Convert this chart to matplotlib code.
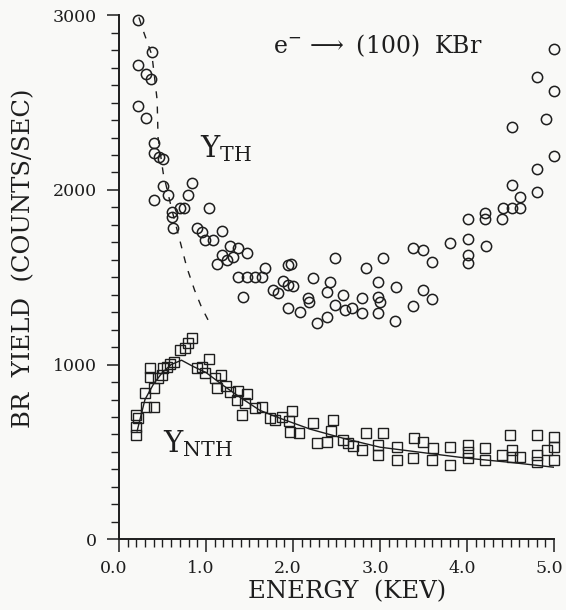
import matplotlib.pyplot as plt
import matplotlib.transforms as mtransforms
from matplotlib.ticker import MultipleLocator

# thermal yield (circles)
th_energy = [0.22, 0.38, 0.22, 0.31, 0.37, 0.22, 0.31, 0.40, 0.40, 0.46,
             0.51, 0.51, 0.40, 0.56, 0.61, 0.62, 0.70, 0.75, 0.79, 0.84,
             1.03, 0.61, 0.90, 0.95, 0.99, 1.08, 1.18, 1.28, 1.37, 1.47,
             1.18, 1.24, 1.13, 1.31, 1.37, 1.47, 1.56, 1.64, 1.68, 1.43,
             1.77, 1.83, 1.89, 1.94, 1.94, 1.94, 1.98, 2.00, 2.08, 2.17,
             2.18, 2.23, 2.28, 2.39, 2.39, 2.43, 2.48, 2.48, 2.57, 2.60,
             2.68, 2.79, 2.79, 2.84, 2.98, 2.98, 2.98, 3.00, 3.03, 3.17,
             3.18, 3.38, 3.38, 3.49, 3.49, 3.60, 3.60, 3.80, 4.01, 4.01,
             4.01, 4.01, 4.21, 4.21, 4.22, 4.40, 4.41, 4.52, 4.52, 4.52,
             4.61, 4.61, 4.80, 4.80, 4.80, 4.91, 5.00, 5.00, 5.00]
th_yield = [2971, 2788, 2714, 2662, 2634, 2479, 2410, 2267, 2210, 2187,
            2176, 2021, 1941, 1969, 1872, 1780, 1895, 1895, 1969, 2038,
            1895, 1843, 1780, 1758, 1712, 1712, 1763, 1677, 1666, 1637,
            1626, 1597, 1574, 1614, 1500, 1500, 1500, 1500, 1551, 1385,
            1426, 1408, 1477, 1454, 1569, 1322, 1574, 1450, 1300, 1380,
            1357, 1494, 1237, 1414, 1271, 1471, 1609, 1340, 1397, 1311,
            1322, 1380, 1294, 1551, 1471, 1385, 1294, 1360, 1609, 1248,
            1443, 1666, 1334, 1655, 1426, 1586, 1374, 1695, 1832, 1718,
            1626, 1580, 1866, 1832, 1677, 1832, 1895, 1895, 2027, 2359,
            1895, 1958, 1987, 2118, 2645, 2404, 2805, 2565, 2193]

# non-thermal yield (squares)
nth_energy = [0.20, 0.20, 0.20, 0.22, 0.30, 0.31, 0.40, 0.40, 0.36, 0.36,
              0.45, 0.49, 0.51, 0.55, 0.59, 0.63, 0.70, 0.76, 0.79, 0.84,
              0.90, 0.95, 0.99, 1.03, 1.10, 1.17, 1.13, 1.23, 1.28, 1.37,
              1.47, 1.36, 1.45, 1.41, 1.56, 1.64, 1.74, 1.79, 1.87, 1.99,
              1.95, 1.97, 2.07, 2.23, 2.28, 2.39, 2.46, 2.44, 2.57, 2.63,
              2.69, 2.79, 2.84, 2.98, 2.98, 3.03, 3.20, 3.20, 3.39, 3.38,
              3.49, 3.61, 3.60, 3.80, 3.80, 4.01, 4.01, 4.01, 4.21, 4.21,
              4.40, 4.49, 4.52, 4.52, 4.61, 4.80, 4.80, 4.80, 4.92, 5.00,
              5.00, 5.00]
nth_yield = [595, 641, 710, 693, 836, 756, 756, 865, 979, 927,
             922, 939, 979, 985, 1002, 1013, 1082, 1093, 1122, 1151,
             979, 985, 950, 1030, 922, 939, 865, 876, 842, 847,
             830, 796, 779, 710, 750, 756, 693, 681, 698, 733,
             676, 613, 607, 664, 550, 555, 681, 618, 567, 550,
             532, 510, 607, 538, 481, 607, 527, 452, 578, 464,
             555, 521, 452, 527, 424, 538, 498, 464, 521, 452,
             481, 595, 510, 469, 469, 595, 481, 441, 510, 584,
             527, 452]

# dashed curve through the low-energy thermal points
dash_energy = [0.23, 0.29, 0.38, 0.41, 0.44, 0.45, 0.51, 0.61, 0.70, 0.78, 0.87, 0.95, 1.05]
dash_yield = [2988, 2897, 2771, 2645, 2513, 2301, 2095, 1884, 1712, 1557, 1426, 1328, 1231]

# solid fit through the squares
fit_energy = [0.21, 0.30, 0.40, 0.50, 0.60, 0.72, 0.85, 1.00, 1.20, 1.40,
              1.62, 1.85, 2.20, 2.60, 3.00, 3.46, 4.00, 4.50, 5.00]
fit_yield = [620, 800, 890, 955, 1000, 1025, 990, 955, 880, 810,
             738, 693, 630, 575, 527, 498, 464, 440, 412]

ink = '#1e1e1e'
plt.rcParams['font.family'] = 'DejaVu Serif'
plt.rcParams['mathtext.fontset'] = 'dejavuserif'

fig = plt.figure(figsize=(5.66, 6.10), dpi=100, facecolor='#f9f9f7')
ax = fig.add_axes([0.210, 0.116, 0.769, 0.859])
ax.set_facecolor('#f9f9f7')

ax.plot(th_energy, th_yield, 'o', ms=7.4, mfc='none', mec=ink, mew=1.1, clip_on=False)
ax.plot(nth_energy, nth_yield, 's', ms=7.0, mfc='none', mec=ink, mew=1.0, clip_on=False)
ax.plot(dash_energy, dash_yield, '--', color=ink, lw=1.0, dashes=(5, 6))
ax.plot(fit_energy, fit_yield, '-', color=ink, lw=1.0)

ax.set_xlim(0, 5)
ax.set_ylim(0, 3000)
ax.xaxis.set_major_locator(MultipleLocator(1.0))
ax.xaxis.set_minor_locator(MultipleLocator(0.1))
ax.yaxis.set_major_locator(MultipleLocator(1000))
ax.yaxis.set_minor_locator(MultipleLocator(100))
ax.xaxis.set_major_formatter(plt.FuncFormatter(lambda v, p: '%.1f' % v))

for s in ['top', 'right']:
    ax.spines[s].set_visible(False)
for s in ['left', 'bottom']:
    ax.spines[s].set_linewidth(1.4)
    ax.spines[s].set_color(ink)

ax.tick_params(which='major', length=9, width=1.1, color=ink, labelsize=12.5, labelcolor=ink)
ax.tick_params(which='minor', length=5.5, width=1.0, color=ink)
ax.tick_params(axis='y', which='major', pad=7)
ax.tick_params(axis='x', which='major', pad=6)

# x tick labels sit a little left of their ticks in the original
shift = mtransforms.ScaledTranslation(-5 / 100, 0, fig.dpi_scale_trans)
for lab in ax.get_xticklabels():
    lab.set_transform(lab.get_transform() + shift)

ax.set_xlabel('ENERGY  (KEV)', fontsize=17.5, color=ink)
ax.set_ylabel('BR  YIELD  (COUNTS/SEC)', fontsize=17.5, color=ink)
ax.xaxis.set_label_coords(0.524, -0.078)
ax.yaxis.set_label_coords(-0.193, 0.536)

ax.text(0.93, 2187, r'$\mathrm{Y}_{\mathrm{TH}}$', fontsize=21, color=ink)
ax.text(0.51, 498, r'$\mathrm{Y}_{\mathrm{NTH}}$', fontsize=21, color=ink)
ax.text(1.77, 2782, r'$\mathrm{e}^{-}\,\longrightarrow$ (100)  KBr', fontsize=17, color=ink)

fig.savefig('out.png', dpi=100, facecolor=fig.get_facecolor())
